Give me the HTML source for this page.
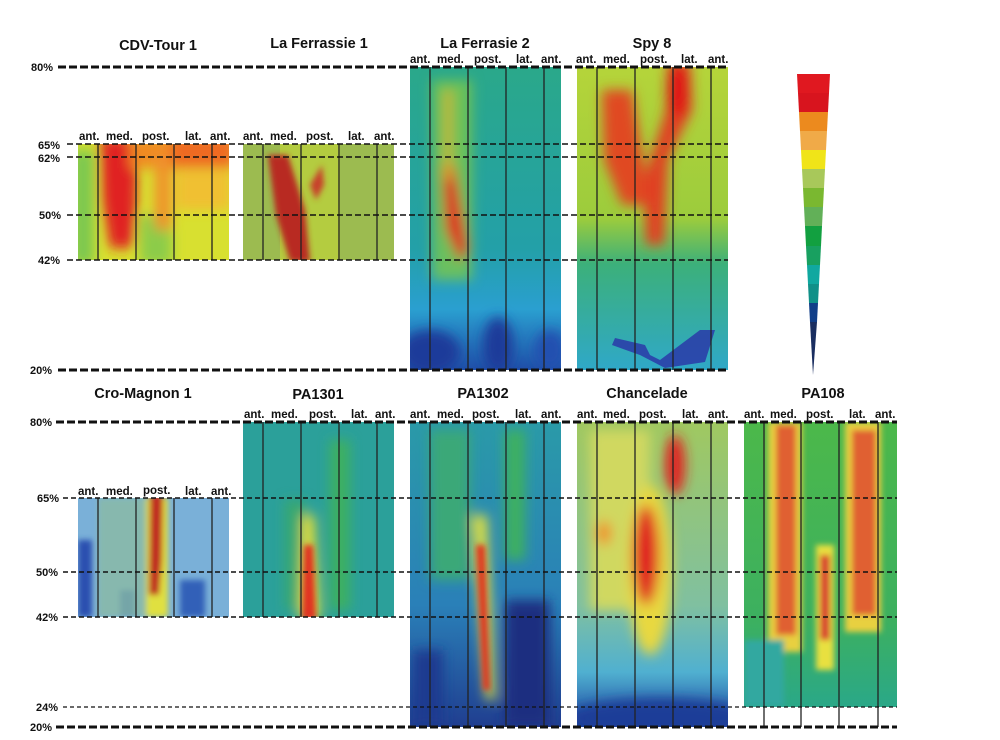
<!DOCTYPE html>
<html><head><meta charset="utf-8"><style>body{margin:0;background:#fff}svg{display:block}text{font-family:"Liberation Sans",Arial,sans-serif;font-weight:bold;fill:#111}</style></head><body>
<svg width="1000" height="740" viewBox="0 0 1000 740" xmlns="http://www.w3.org/2000/svg">
<defs>
<filter id="b" x="-20%" y="-20%" width="140%" height="140%"><feGaussianBlur stdDeviation="6"/></filter>
<filter id="b2" x="-20%" y="-20%" width="140%" height="140%"><feGaussianBlur stdDeviation="3"/></filter>
<clipPath id="c1"><rect x="78" y="144" width="151" height="116"/></clipPath>
<clipPath id="c2"><rect x="243" y="144" width="151" height="116"/></clipPath>
<clipPath id="c3"><rect x="410" y="67" width="151" height="303"/></clipPath>
<clipPath id="c4"><rect x="577" y="67" width="151" height="303"/></clipPath>
<clipPath id="c5"><rect x="78" y="498" width="151" height="119"/></clipPath>
<clipPath id="c6"><rect x="243" y="422" width="151" height="195"/></clipPath>
<clipPath id="c7"><rect x="410" y="422" width="151" height="305"/></clipPath>
<clipPath id="c8"><rect x="577" y="422" width="151" height="305"/></clipPath>
<clipPath id="c9"><rect x="744" y="422" width="153" height="285"/></clipPath>
<linearGradient id="g3" x1="0" y1="0" x2="0" y2="1"><stop offset="0" stop-color="#2aa88a"/><stop offset="0.6" stop-color="#23a0a8"/><stop offset="0.8" stop-color="#2a9fd0"/><stop offset="1" stop-color="#1f4ea8"/></linearGradient>
<linearGradient id="g4" x1="0" y1="0" x2="0" y2="1"><stop offset="0" stop-color="#b5d43a"/><stop offset="0.5" stop-color="#9ccc3c"/><stop offset="0.65" stop-color="#3cb07a"/><stop offset="1" stop-color="#2fa8c8"/></linearGradient>
<linearGradient id="g7" x1="0" y1="0" x2="0" y2="1"><stop offset="0" stop-color="#2a9aa8"/><stop offset="0.6" stop-color="#2a80b8"/><stop offset="1" stop-color="#203e90"/></linearGradient>
<linearGradient id="g8" x1="0" y1="0" x2="0" y2="1"><stop offset="0" stop-color="#a0c860"/><stop offset="0.6" stop-color="#80c0a0"/><stop offset="0.82" stop-color="#50b0d0"/><stop offset="1" stop-color="#1c44a0"/></linearGradient>
<linearGradient id="g9" x1="0" y1="0" x2="0" y2="1"><stop offset="0" stop-color="#4cb84a"/><stop offset="0.7" stop-color="#3cb060"/><stop offset="1" stop-color="#2aa888"/></linearGradient>
</defs>

<g font-size="14.5" text-anchor="middle">
<text x="158" y="50">CDV-Tour 1</text>
<text x="319" y="48">La Ferrassie 1</text>
<text x="485" y="48">La Ferrasie 2</text>
<text x="652" y="48">Spy 8</text>
<text x="143" y="398">Cro-Magnon 1</text>
<text x="318" y="399">PA1301</text>
<text x="483" y="398">PA1302</text>
<text x="647" y="398">Chancelade</text>
<text x="823" y="398">PA108</text>
</g>

<g clip-path="url(#c1)"><rect x="78" y="144" width="151" height="116" fill="#d8e030"/>
<g filter="url(#b)"><rect x="72" y="150" width="22" height="115" fill="#7cc850"/><rect x="140" y="215" width="32" height="50" fill="#8ccc48"/>
<path d="M100 138 L138 138 L136 215 L132 248 L110 248 L102 200Z" fill="#e02020"/><rect x="130" y="138" width="50" height="30" fill="#f08a20"/><rect x="170" y="136" width="65" height="32" fill="#ef6a20"/><rect x="155" y="150" width="16" height="80" fill="#f0902a"/><rect x="176" y="170" width="55" height="40" fill="#f0c030"/></g></g>
<g clip-path="url(#c2)"><rect x="243" y="144" width="151" height="116" fill="#9cbb50"/>
<rect x="280" y="144" width="60" height="116" fill="#b4cc40"/>
<g filter="url(#b2)"><path d="M268 155 L288 155 L305 210 L310 262 L290 262 L276 215Z" fill="#b82a20"/><path d="M310 185 L322 165 L324 185 L316 200Z" fill="#c8402a"/></g></g>
<g clip-path="url(#c3)"><rect x="410" y="67" width="151" height="303" fill="url(#g3)"/>
<g filter="url(#b)"><rect x="432" y="80" width="40" height="200" fill="#7cc84a" opacity=".8"/><path d="M442 165 L454 165 L468 250 L460 262 L446 230Z" fill="#e02a20"/><rect x="445" y="90" width="6" height="90" fill="#e8b020"/>
<ellipse cx="430" cy="352" rx="30" ry="22" fill="#1a3a9a"/><ellipse cx="498" cy="345" rx="15" ry="28" fill="#1a3a9a"/><ellipse cx="550" cy="350" rx="15" ry="20" fill="#2050b0"/></g></g>
<g clip-path="url(#c4)"><rect x="577" y="67" width="151" height="303" fill="url(#g4)"/>
<g filter="url(#b)"><path d="M602 90 L632 90 L645 170 L645 205 L622 205 L604 160Z" fill="#e04820"/><path d="M668 62 L690 62 L692 110 L668 160 L664 245 L646 245 L644 180 L666 110Z" fill="#e04020"/><ellipse cx="678" cy="90" rx="11" ry="28" fill="#e01818"/></g>
<path d="M615 338 L645 345 L650 355 L660 360 L700 330 L715 330 L705 362 L665 368 L640 355 L612 345Z" fill="#2a3aa8" opacity=".85"/></g>
<g clip-path="url(#c5)"><rect x="78" y="498" width="151" height="119" fill="#7ab0d8"/>
<g filter="url(#b2)"><rect x="78" y="540" width="14" height="77" fill="#2a50b0"/><rect x="180" y="580" width="25" height="37" fill="#3060b8"/><rect x="120" y="590" width="15" height="27" fill="#4070c0"/><rect x="98" y="498" width="55" height="119" fill="#8cbc9c" opacity=".7"/>
<rect x="146" y="498" width="22" height="119" fill="#e0e040"/><path d="M150 495 L163 495 L162 560 L159 595 L149 595Z" fill="#c02a20"/></g></g>
<g clip-path="url(#c6)"><rect x="243" y="422" width="151" height="195" fill="#2ba09a"/>
<g filter="url(#b)"><rect x="330" y="440" width="20" height="170" fill="#3cb060"/><rect x="285" y="500" width="20" height="110" fill="#38a870"/>
<path d="M303 515 L314 515 L320 620 L300 620Z" fill="#e8e030"/></g>
<g filter="url(#b2)"><path d="M304 545 L313 545 L316 620 L302 620Z" fill="#e03020"/></g></g>
<g clip-path="url(#c7)"><rect x="410" y="422" width="151" height="305" fill="url(#g7)"/>
<g filter="url(#b)"><rect x="430" y="430" width="40" height="150" fill="#3aa878"/><rect x="505" y="430" width="20" height="130" fill="#3cb060"/><rect x="505" y="600" width="45" height="127" fill="#1f2e80"/><rect x="413" y="650" width="30" height="77" fill="#1f3a90"/>
<path d="M472 515 L487 515 L495 700 L486 700Z" fill="#e0e040"/></g>
<g filter="url(#b2)"><path d="M476 545 L485 545 L490 690 L483 690Z" fill="#e03820"/></g></g>
<g clip-path="url(#c8)"><rect x="577" y="422" width="151" height="305" fill="url(#g8)"/>
<g filter="url(#b)"><rect x="590" y="430" width="60" height="180" fill="#d0d860"/><ellipse cx="650" cy="570" rx="22" ry="85" fill="#e8d840"/><ellipse cx="675" cy="465" rx="10" ry="30" fill="#e02020"/><ellipse cx="646" cy="555" rx="13" ry="50" fill="#e02020"/><ellipse cx="604" cy="533" rx="7" ry="12" fill="#f08a20"/>
<ellipse cx="660" cy="718" rx="95" ry="20" fill="#1c3c98"/></g></g>
<g clip-path="url(#c9)"><rect x="744" y="422" width="153" height="285" fill="url(#g9)"/>
<g filter="url(#b2)"><rect x="768" y="422" width="34" height="230" fill="#e8d040"/><rect x="776" y="425" width="20" height="210" fill="#e06030"/><rect x="845" y="422" width="36" height="210" fill="#e8d040"/><rect x="852" y="430" width="24" height="185" fill="#e06030"/><rect x="816" y="545" width="18" height="125" fill="#e8e040"/><rect x="820" y="555" width="10" height="85" fill="#d84030"/><rect x="744" y="640" width="40" height="67" fill="#30a8a0"/></g></g>

<g stroke="#222" stroke-width="1.3">
<line x1="98" y1="144" x2="98" y2="260"/><line x1="136" y1="144" x2="136" y2="260"/><line x1="174" y1="144" x2="174" y2="260"/><line x1="212" y1="144" x2="212" y2="260"/>
<line x1="263" y1="144" x2="263" y2="260"/><line x1="301" y1="144" x2="301" y2="260"/><line x1="339" y1="144" x2="339" y2="260"/><line x1="377" y1="144" x2="377" y2="260"/>
<line x1="430" y1="67" x2="430" y2="370"/><line x1="468" y1="67" x2="468" y2="370"/><line x1="506" y1="67" x2="506" y2="370"/><line x1="544" y1="67" x2="544" y2="370"/>
<line x1="597" y1="67" x2="597" y2="370"/><line x1="635" y1="67" x2="635" y2="370"/><line x1="673" y1="67" x2="673" y2="370"/><line x1="711" y1="67" x2="711" y2="370"/>
<line x1="98" y1="498" x2="98" y2="617"/><line x1="136" y1="498" x2="136" y2="617"/><line x1="174" y1="498" x2="174" y2="617"/><line x1="212" y1="498" x2="212" y2="617"/>
<line x1="263" y1="422" x2="263" y2="617"/><line x1="301" y1="422" x2="301" y2="617"/><line x1="339" y1="422" x2="339" y2="617"/><line x1="377" y1="422" x2="377" y2="617"/>
<line x1="430" y1="422" x2="430" y2="727"/><line x1="468" y1="422" x2="468" y2="727"/><line x1="506" y1="422" x2="506" y2="727"/><line x1="544" y1="422" x2="544" y2="727"/>
<line x1="597" y1="422" x2="597" y2="727"/><line x1="635" y1="422" x2="635" y2="727"/><line x1="673" y1="422" x2="673" y2="727"/><line x1="711" y1="422" x2="711" y2="727"/>
<line x1="764" y1="422" x2="764" y2="727"/><line x1="801" y1="422" x2="801" y2="727"/><line x1="839" y1="422" x2="839" y2="727"/><line x1="878" y1="422" x2="878" y2="727"/>
</g>

<g font-size="11.5">
<text x="79" y="140">ant.</text><text x="106" y="140">med.</text><text x="142" y="140">post.</text><text x="185" y="140">lat.</text><text x="210" y="140">ant.</text>
<text x="243" y="140">ant.</text><text x="270" y="140">med.</text><text x="306" y="140">post.</text><text x="348" y="140">lat.</text><text x="374" y="140">ant.</text>
<text x="410" y="63">ant.</text><text x="437" y="63">med.</text><text x="474" y="63">post.</text><text x="516" y="63">lat.</text><text x="541" y="63">ant.</text>
<text x="576" y="63">ant.</text><text x="603" y="63">med.</text><text x="640" y="63">post.</text><text x="681" y="63">lat.</text><text x="708" y="63">ant.</text>
<text x="78" y="495">ant.</text><text x="106" y="495">med.</text><text x="143" y="494">post.</text><text x="185" y="495">lat.</text><text x="211" y="495">ant.</text>
<text x="244" y="418">ant.</text><text x="271" y="418">med.</text><text x="309" y="418">post.</text><text x="351" y="418">lat.</text><text x="375" y="418">ant.</text>
<text x="410" y="418">ant.</text><text x="437" y="418">med.</text><text x="472" y="418">post.</text><text x="515" y="418">lat.</text><text x="541" y="418">ant.</text>
<text x="577" y="418">ant.</text><text x="603" y="418">med.</text><text x="639" y="418">post.</text><text x="682" y="418">lat.</text><text x="708" y="418">ant.</text>
<text x="744" y="418">ant.</text><text x="770" y="418">med.</text><text x="806" y="418">post.</text><text x="849" y="418">lat.</text><text x="875" y="418">ant.</text>
</g>

<g font-size="11">
<text x="31" y="71">80%</text><text x="38" y="149">65%</text><text x="38" y="162">62%</text><text x="39" y="219">50%</text><text x="38" y="264">42%</text><text x="30" y="374">20%</text>
<text x="30" y="426">80%</text><text x="37" y="502">65%</text><text x="36" y="576">50%</text><text x="36" y="621">42%</text><text x="36" y="711">24%</text><text x="30" y="731">20%</text>
</g>

<g stroke="#111" fill="none">
<line x1="58" y1="67" x2="728" y2="67" stroke-width="3" stroke-dasharray="8,3"/>
<line x1="58" y1="370" x2="728" y2="370" stroke-width="3" stroke-dasharray="8,3"/>
<line x1="67" y1="144" x2="728" y2="144" stroke-width="1.6" stroke-dasharray="6,3"/>
<line x1="67" y1="157" x2="728" y2="157" stroke-width="1.6" stroke-dasharray="6,3"/>
<line x1="67" y1="215" x2="728" y2="215" stroke-width="1.6" stroke-dasharray="6,3"/>
<line x1="67" y1="260" x2="728" y2="260" stroke-width="1.6" stroke-dasharray="6,3"/>
<line x1="56" y1="422" x2="897" y2="422" stroke-width="3" stroke-dasharray="8,3"/>
<line x1="56" y1="727" x2="897" y2="727" stroke-width="3" stroke-dasharray="8,3"/>
<line x1="63" y1="498" x2="897" y2="498" stroke-width="1.6" stroke-dasharray="5,3"/>
<line x1="63" y1="572" x2="897" y2="572" stroke-width="1.6" stroke-dasharray="5,3"/>
<line x1="63" y1="617" x2="897" y2="617" stroke-width="1.6" stroke-dasharray="5,3"/>
<line x1="63" y1="707" x2="897" y2="707" stroke-width="1.2" stroke-dasharray="4,3"/>
</g>

<g>
<polygon points="797,74 830,74 829,93 798,93" fill="#e01820"/>
<polygon points="798,93 829,93 828,112 799,112" fill="#d8141e"/>
<polygon points="799,112 828,112 827,131 800,131" fill="#ec8a1e"/>
<polygon points="800,131 827,131 826,150 801,150" fill="#f0aa48"/>
<polygon points="801,150 826,150 825,169 802,169" fill="#f0e418"/>
<polygon points="802,169 825,169 824,188 803,188" fill="#a8c85a"/>
<polygon points="803,188 824,188 823,207 804,207" fill="#7ab830"/>
<polygon points="804,207 823,207 822,226 805,226" fill="#62b058"/>
<polygon points="805,226 822,226 821,246 806,246" fill="#12a040"/>
<polygon points="806,246 821,246 820,265 807,265" fill="#18a060"/>
<polygon points="807,265 820,265 819,284 808,284" fill="#10a8a0"/>
<polygon points="808,284 819,284 818,303 809,303" fill="#109088"/>
<polygon points="809,303 818,303 817,322 810,322" fill="#103e88"/>
<polygon points="810,322 817,322 813,375" fill="#1a2e60"/>
</g>
</svg>
</body></html>
